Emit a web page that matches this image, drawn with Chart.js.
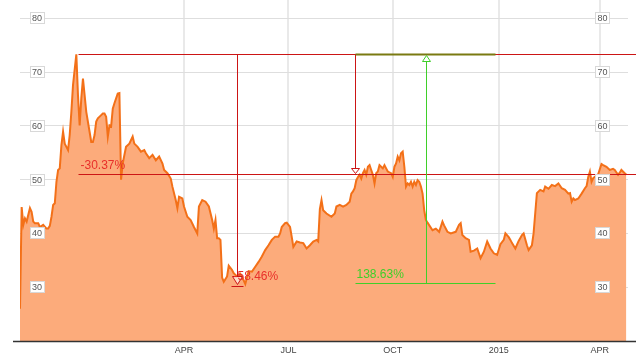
<!DOCTYPE html>
<html>
<head>
<meta charset="utf-8">
<script src="https://cdn.jsdelivr.net/npm/chart.js@4.4.1/dist/chart.umd.min.js"></script>
<style>
  html, body { margin: 0; padding: 0; background: #fff; }
  #wrap { width: 636px; height: 359px; position: relative; }
</style>
</head>
<body>
<div id="wrap"><canvas id="c" width="636" height="359"></canvas></div>
<script>
// trading-day index since first session
const dayIndex = [0,1,2,3,4,6,7,8,9,11,12,14,16,17,18,19,20,21,22,23,24,25,26,27,28,29,30,31,32,34,35,36,37,38,39,40,42,43,44,45,46,47,49,50,51,52,53,54,55,56,57,59,60,61,62,64,66,68,69,71,73,75,76,78,80,82,84,86,87,89,91,92,94,95,96,98,99,101,103,105,107,108,110,112,114,116,117,118,119,120,121,122,123,125,126,128,129,131,133,135,136,138,140,142,144,146,148,150,152,154,156,157,158,160,161,163,164,165,167,169,171,173,175,177,179,180,181,182,183,185,188,190,191,193,195,197,199,200,201,202,203,204,205,206,207,208,209,210,211,212,213,214,215,216,217,218,219,220,221,222,224,225,226,227,228,229,230,231,232,233,234,235,236,237,238,239,240,241,242,243,244,245,246,249,251,253,255,256,258,260,263,265,266,267,269,271,272,274,276,278,280,282,284,286,288,290,292,293,295,296,297,299,301,303,304,306,307,309,310,312,314,316,317,319,321,323,325,327,329,331,332,333,334,335,337,339,341,342,343,344,345,346,349,351,352,354,356,358,359,361,362,363,365,366];
const prices = [26.0,44.9,41.6,42.8,42.2,44.7,44.0,42.2,41.9,41.9,41.2,41.6,40.9,40.9,41.4,43.1,45.3,45.6,49.6,51.8,52.1,56.4,58.9,56.7,56.1,55.5,58.3,62.6,67.6,73.31,65.7,60.1,65.1,68.8,65.7,62.6,58.9,57.0,57.0,58.3,60.8,61.4,62.0,62.3,62.3,61.7,58.0,60.1,59.9,63.2,64.2,66.0,66.1,50.0,53.0,56.1,56.7,58.0,56.7,56.1,55.2,55.5,54.9,54.0,54.6,53.6,54.3,53.0,51.8,51.2,50.2,48.7,46.2,44.7,46.8,46.5,45.0,43.1,42.5,41.2,40.0,45.0,46.2,45.9,45.0,42.5,40.9,42.5,39.1,39.1,38.8,31.8,31.0,32.0,34.0,33.2,32.6,32.0,32.5,31.3,30.6,33.0,32.9,33.8,34.7,35.7,36.9,37.8,38.8,39.4,39.4,40.0,41.2,41.9,42.0,41.2,39.4,37.5,38.5,38.3,38.2,37.2,37.8,38.5,38.8,38.5,44.5,46.2,44.3,43.7,43.1,43.7,45.0,45.3,45.0,45.3,45.9,47.4,47.8,48.4,49.9,50.5,50.9,50.2,51.2,51.8,50.9,52.4,52.7,51.8,50.9,49.3,51.2,51.5,52.7,52.4,52.1,52.7,52.1,51.5,51.2,50.5,52.4,53.0,54.3,53.6,54.9,55.2,52.4,48.7,49.3,49.0,49.6,48.7,49.6,49.0,49.9,49.6,48.7,47.4,44.3,42.5,42.0,40.6,40.9,40.3,42.2,41.5,40.3,40.0,40.3,41.6,41.9,39.7,39.1,38.8,36.6,36.8,37.2,35.4,36.6,38.5,37.2,36.3,36.0,38.0,38.8,40.0,39.3,38.8,38.2,37.2,38.6,39.7,40.0,37.8,36.9,37.8,40.0,47.5,48.1,47.8,48.7,48.3,49.0,48.8,49.3,48.4,48.1,47.4,47.5,45.9,46.5,46.2,46.5,47.4,48.4,48.8,50.5,51.5,49.6,50.3,51.0,52.9,52.7,52.4,51.8,52.0,51.8,50.9,51.3,51.8,51.2,50.9];

const xTickDays = [99, 162, 225, 289, 350];
const xTickLabels = ['APR', 'JUL', 'OCT', '2015', 'APR'];
const yTickValues = [30, 40, 50, 60, 70, 80];

// annotation values
const peakValue = 73.31;
const drop1Pct = -30.37;  // to 51.05
const drop2Pct = -58.46;  // to 30.45
const risePct = 138.63;   // from 30.72 to peak
const drop1Value = peakValue * (1 + drop1Pct / 100);
const drop2Value = peakValue * (1 + drop2Pct / 100);
const riseBase = peakValue / (1 + risePct / 100);
const annStartDay = 35;
const drop2Day = 131;
const drop1Day = 202;
const riseStartDay = 202;
const riseDay = 245;
const riseEndDay = 287;

const RED = '#cc1515';
const RED_TXT = '#e8302a';
const GREEN = '#3fcf2a';

const annotPlugin = {
  id: 'annot',
  afterDatasetsDraw(chart) {
    const ctx = chart.ctx, xs = chart.scales.x, ys = chart.scales.y;
    const W = chart.width;
    const X = v => Math.round(xs.getPixelForValue(v)) + 0.5;
    const Y = v => Math.round(ys.getPixelForValue(v)) + 0.5;
    ctx.save();
    ctx.lineWidth = 1;
    // red horizontals
    ctx.strokeStyle = RED;
    ctx.beginPath();
    ctx.moveTo(X(annStartDay), Y(peakValue)); ctx.lineTo(W, Y(peakValue));
    ctx.moveTo(X(annStartDay), Y(drop1Value)); ctx.lineTo(W, Y(drop1Value));
    ctx.stroke();
    // red vertical 1 (to drop2)
    const xv1 = X(drop2Day), yLow = Y(drop2Value);
    ctx.beginPath();
    ctx.moveTo(xv1, Y(peakValue)); ctx.lineTo(xv1, yLow - 9);
    ctx.stroke();
    ctx.beginPath();
    ctx.moveTo(xv1 - 5, yLow - 9); ctx.lineTo(xv1 + 5, yLow - 9); ctx.lineTo(xv1, yLow - 1); ctx.closePath();
    ctx.fillStyle = 'rgba(255,255,255,0.6)'; ctx.fill(); ctx.stroke();
    ctx.beginPath();
    ctx.moveTo(xv1 - 6, yLow + 1); ctx.lineTo(xv1 + 6, yLow + 1);
    ctx.stroke();
    // red vertical 2 (to drop1)
    const xv2 = X(drop1Day), yD1 = Y(drop1Value);
    ctx.beginPath();
    ctx.moveTo(xv2, Y(peakValue)); ctx.lineTo(xv2, yD1 - 6);
    ctx.stroke();
    ctx.beginPath();
    ctx.moveTo(xv2 - 4, yD1 - 6); ctx.lineTo(xv2 + 4, yD1 - 6); ctx.lineTo(xv2, yD1 - 1); ctx.closePath();
    ctx.fillStyle = '#fff'; ctx.fill(); ctx.stroke();
    // green
    const yBase = Y(riseBase), yTop = Y(peakValue);
    ctx.strokeStyle = GREEN;
    ctx.beginPath();
    ctx.moveTo(X(riseStartDay), yBase); ctx.lineTo(X(riseEndDay), yBase);
    ctx.stroke();
    ctx.strokeStyle = '#7a7a12';
    ctx.lineWidth = 2;
    ctx.beginPath();
    ctx.moveTo(X(riseStartDay), yTop); ctx.lineTo(X(riseEndDay), yTop);
    ctx.stroke();
    ctx.lineWidth = 1;
    ctx.strokeStyle = GREEN;
    const xg = X(riseDay);
    ctx.beginPath();
    ctx.moveTo(xg, yBase); ctx.lineTo(xg, yTop + 7);
    ctx.stroke();
    ctx.beginPath();
    ctx.moveTo(xg - 4, yTop + 7); ctx.lineTo(xg + 4, yTop + 7); ctx.lineTo(xg, yTop + 1); ctx.closePath();
    ctx.fillStyle = '#fff'; ctx.fill(); ctx.stroke();
    // texts
    ctx.font = '12px "Liberation Sans", Arial, sans-serif';
    ctx.textBaseline = 'alphabetic';
    ctx.textAlign = 'left';
    ctx.fillStyle = RED_TXT;
    ctx.fillText(drop1Pct.toFixed(2) + '%', X(annStartDay) + 2, yD1 - 6);
    ctx.fillText(drop2Pct.toFixed(2) + '%', xv1 - 4, yLow - 6);
    ctx.fillStyle = GREEN;
    ctx.fillText(risePct.toFixed(2) + '%', X(riseStartDay) + 1, yBase - 6);
    ctx.restore();
  },
  afterDraw(chart) {
    const ctx = chart.ctx, ys = chart.scales.y, area = chart.chartArea;
    ctx.save();
    // x axis line
    ctx.strokeStyle = '#333';
    ctx.lineWidth = 1.5;
    ctx.beginPath();
    ctx.moveTo(13, area.bottom + 0.5); ctx.lineTo(chart.width, area.bottom + 0.5);
    ctx.stroke();
    // y labels in boxes, both sides
    ctx.font = '9px "Liberation Sans", Arial, sans-serif';
    ctx.textAlign = 'center';
    ctx.textBaseline = 'middle';
    ctx.lineWidth = 1;
    const centers = [area.left + 17, area.right - 25.5];
    yTickValues.forEach(v => {
      const py = Math.round(ys.getPixelForValue(v));
      centers.forEach(cx => {
        ctx.fillStyle = '#fff';
        ctx.fillRect(Math.round(cx - 7.5), py - 6, 15, 12);
        ctx.strokeStyle = '#d8d8d8';
        ctx.strokeRect(Math.round(cx - 7.5) + 0.5, py - 5.5, 14, 11);
        ctx.fillStyle = '#555';
        ctx.fillText(String(v), cx, py + 0.5);
      });
    });
    ctx.restore();
  }
};

new Chart(document.getElementById('c'), {
  type: 'line',
  data: {
    datasets: [{
      data: dayIndex.map((d, i) => ({ x: d, y: prices[i] })),
      borderColor: '#f37018',
      backgroundColor: '#fcab7b',
      borderWidth: 2,
      pointRadius: 0,
      tension: 0,
      fill: 'start'
    }]
  },
  options: {
    responsive: false,
    animation: false,
    devicePixelRatio: 1,
    layout: { padding: { left: 20, right: 8, top: 0, bottom: 0 } },
    plugins: { legend: { display: false }, tooltip: { enabled: false } },
    scales: {
      x: {
        type: 'linear',
        min: 0,
        max: 367,
        afterBuildTicks: s => { s.ticks = xTickDays.map(v => ({ value: v })); },
        afterFit: s => { s.height = 18; },
        ticks: {
          autoSkip: false,
          maxRotation: 0,
          padding: 4,
          color: '#444',
          font: { family: '"Liberation Sans", Arial, sans-serif', size: 9 },
          callback: (v, i) => xTickLabels[i]
        },
        grid: { color: '#e9e9e9', lineWidth: 2, drawTicks: false },
        border: { display: false }
      },
      y: {
        min: 20,
        max: 83.4,
        afterBuildTicks: s => { s.ticks = yTickValues.map(v => ({ value: v })); },
        afterFit: s => { s.width = 0; },
        ticks: { display: false },
        grid: { color: '#dedede', lineWidth: 1, drawTicks: false },
        border: { display: false }
      }
    }
  },
  plugins: [annotPlugin]
});
</script>
</body>
</html>
